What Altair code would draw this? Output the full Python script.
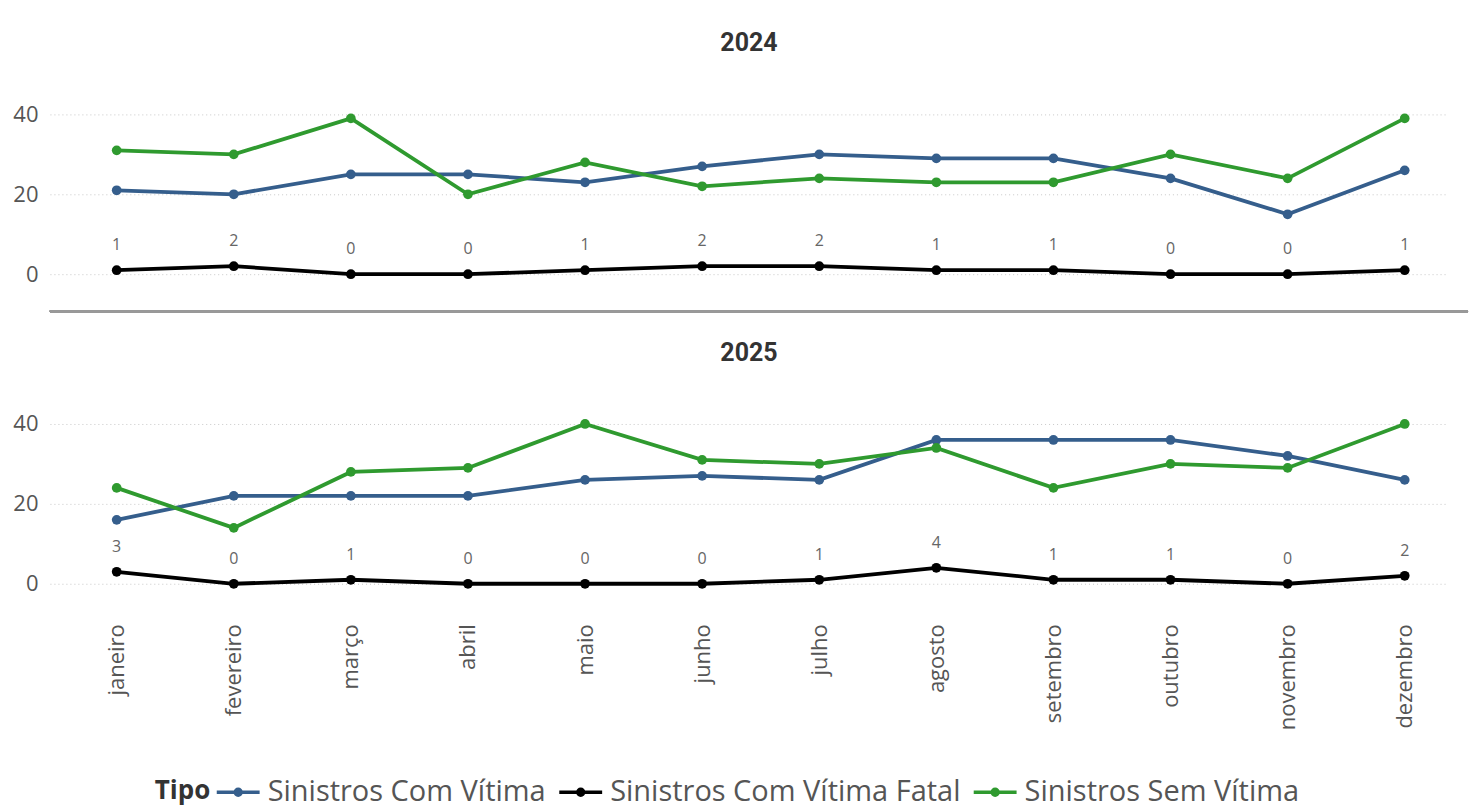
import altair as alt
import pandas as pd

months = ["janeiro", "fevereiro", "março", "abril", "maio", "junho",
          "julho", "agosto", "setembro", "outubro", "novembro", "dezembro"]
tipos = ["Sinistros Com Vítima", "Sinistros Com Vítima Fatal", "Sinistros Sem Vítima"]
colors = ["#355e8c", "#000000", "#2f9a2f"]

com_2024 = [21, 20, 25, 25, 23, 27, 30, 29, 29, 24, 15, 26]
fatal_2024 = [1, 2, 0, 0, 1, 2, 2, 1, 1, 0, 0, 1]
sem_2024 = [31, 30, 39, 20, 28, 22, 24, 23, 23, 30, 24, 39]

com_2025 = [16, 22, 22, 22, 26, 27, 26, 36, 36, 36, 32, 26]
fatal_2025 = [3, 0, 1, 0, 0, 0, 1, 4, 1, 1, 0, 2]
sem_2025 = [24, 14, 28, 29, 40, 31, 30, 34, 24, 30, 29, 40]

rows = []
for year, series in [(2024, [com_2024, fatal_2024, sem_2024]),
                     (2025, [com_2025, fatal_2025, sem_2025])]:
    for tipo, vals in zip(tipos, series):
        for i, (m, v) in enumerate(zip(months, vals)):
            rows.append({"ano": year, "mes": m, "idx": i, "Tipo": tipo, "valor": v})
df = pd.DataFrame(rows)

W = 1400
H = 220
FONT = "Open Sans"
month_expr = "[" + ",".join("'" + m + "'" for m in months) + "][datum.value]"


def panel(year, show_x):
    data = df[df["ano"] == year]
    base = alt.Chart(data)
    x_axis = alt.Axis(values=list(range(12)), labelExpr=month_expr,
                      labelAngle=-90, labelFontSize=22, labelColor="#555555",
                      labelFont=FONT, ticks=False, domain=False, grid=False,
                      labelPadding=20, title=None) if show_x else None
    x = alt.X("idx:Q", scale=alt.Scale(domain=[-0.57, 11.37], nice=False, zero=False),
              axis=x_axis)
    y = alt.Y("valor:Q", scale=alt.Scale(domain=[-5, 50], nice=False, zero=False),
              axis=alt.Axis(values=[0, 20, 40], labelFontSize=22, labelColor="#555555",
                            labelFont=FONT, ticks=False, domain=False, grid=True,
                            gridDash=[1, 3], gridColor="#c8c8c8", gridWidth=1,
                            labelPadding=12, title=None))
    color = alt.Color("Tipo:N", scale=alt.Scale(domain=tipos, range=colors),
                      legend=alt.Legend(orient="none", direction="horizontal",
                                        legendX=105, legendY=703,
                                        titleOrient="left", title="Tipo",
                                        titleFontSize=26, titleFont=FONT,
                                        titleColor="#333333", titleFontWeight="bold",
                                        titlePadding=12,
                                        labelFontSize=29, labelFont=FONT,
                                        labelColor="#555555", labelLimit=0,
                                        symbolType="M-1.6,0H1.6M-0.22,0a0.22,0.22 0 1,0 0.44,0a0.22,0.22 0 1,0 -0.44,0",
                                        symbolSize=720, symbolStrokeWidth=3.5,
                                        columnPadding=6, labelOffset=14))
    fill = alt.Fill("Tipo:N", scale=alt.Scale(domain=tipos, range=colors), legend=None)
    lines = base.mark_line(strokeWidth=3.8).encode(x=x, y=y, color=color)
    pts = base.mark_circle(size=95, opacity=1).encode(x=x, y=y, fill=fill)
    labels = base.transform_filter(alt.datum.Tipo == tipos[1]).mark_text(
        dy=-25, fontSize=16, font=FONT, color="#666666").encode(
        x=x, y=y, text="valor:Q")
    layers = [lines, pts, labels]
    if not show_x:
        sep = alt.Chart(data).mark_rule(color="#999999", strokeWidth=2).encode(
            x=alt.value(0), x2=alt.value(W + 20), y=alt.value(H + 17))
        layers.append(sep)
    return alt.layer(*layers).properties(
        width=W, height=H,
        title=alt.TitleParams(str(year), fontSize=25, font="Roboto",
                              fontWeight="bold", color="#333333", anchor="middle",
                              offset=18))


chart = alt.vconcat(panel(2024, False), panel(2025, True), spacing=29).properties(
    padding={"left": 4, "top": 23, "right": 5, "bottom": 5},
    background="#ffffff",
).configure_view(stroke=None)

chart.save("out.html", embed_options={"renderer": "svg", "actions": False})
